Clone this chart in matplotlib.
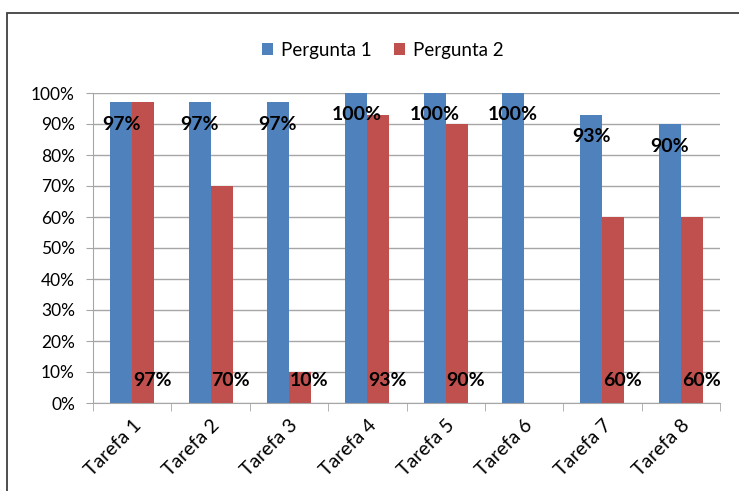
import matplotlib.pyplot as plt
import matplotlib.patches as patches
from matplotlib.ticker import MultipleLocator, PercentFormatter
import numpy as np

categories = ["Tarefa 1", "Tarefa 2", "Tarefa 3", "Tarefa 4",
              "Tarefa 5", "Tarefa 6", "Tarefa 7", "Tarefa 8"]
pergunta1 = [97, 97, 97, 100, 100, 100, 93, 90]
pergunta2 = [97, 70, 10, 93, 90, 0, 60, 60]
series_names = ["Pergunta 1", "Pergunta 2"]

plt.rcParams['font.family'] = ['Lato', 'DejaVu Sans']

blue = '#4F81BD'
red = '#C0504D'
grid_c = '#A6A6A6'

fig = plt.figure(figsize=(7.39, 4.91), dpi=100)
ax = fig.add_axes([93/739, 88/491, 627/739, 310/491])

x = np.arange(len(categories))
w = 0.28
b1 = ax.bar(x - w/2, pergunta1, w, color=blue, label=series_names[0], zorder=2)
b2 = ax.bar(x + w/2, pergunta2, w, color=red, label=series_names[1], zorder=2)

# data labels, like the Excel ones
for i, v in enumerate(pergunta1):
    ax.annotate(f"{v}%", (x[i] - w/2, v), xytext=(0, -22), textcoords='offset pixels',
                ha='center', va='center', fontsize=14, fontweight='bold', zorder=3)
for i, v in enumerate(pergunta2):
    if v == 0:
        continue
    ax.annotate(f"{v}%", (x[i], 0), xytext=(1, 22), textcoords='offset pixels',
                ha='left', va='center', fontsize=14, fontweight='bold', zorder=3)

ax.set_xlim(-0.5, len(categories) - 0.5)
ax.set_ylim(0, 100)
ax.yaxis.set_major_locator(MultipleLocator(10))
ax.yaxis.set_major_formatter(PercentFormatter(decimals=0))
ax.grid(axis='y', color=grid_c, linewidth=1, zorder=0)

ax.set_xticks(x)
ax.set_xticklabels(categories, rotation=45, ha='right', rotation_mode='anchor', fontsize=14)
ax.set_xticks(np.arange(-0.5, len(categories)), minor=True)
ax.tick_params(axis='x', which='major', length=0, pad=10)
ax.tick_params(axis='x', which='minor', length=6, color=grid_c)
ax.tick_params(axis='y', length=5, color=grid_c, labelsize=12.5, pad=8)

for s in ['top', 'right']:
    ax.spines[s].set_visible(False)
for s in ['left', 'bottom']:
    ax.spines[s].set_color(grid_c)

fig.legend(handles=[b1, b2], loc='center', bbox_to_anchor=(0.518, 0.898), ncol=2,
           frameon=False, fontsize=13.5, handlelength=0.6, handleheight=0.6,
           handletextpad=0.4, columnspacing=1.2)

# outer chart border (only top and left visible in the crop)
border = patches.Rectangle((7/739, -0.1), 1.2, 1 - 13/491 + 0.1, transform=fig.transFigure,
                           fill=False, edgecolor='#404040', linewidth=1.3, clip_on=False)
fig.patches.append(border)

fig.savefig('out.png', dpi=100)
